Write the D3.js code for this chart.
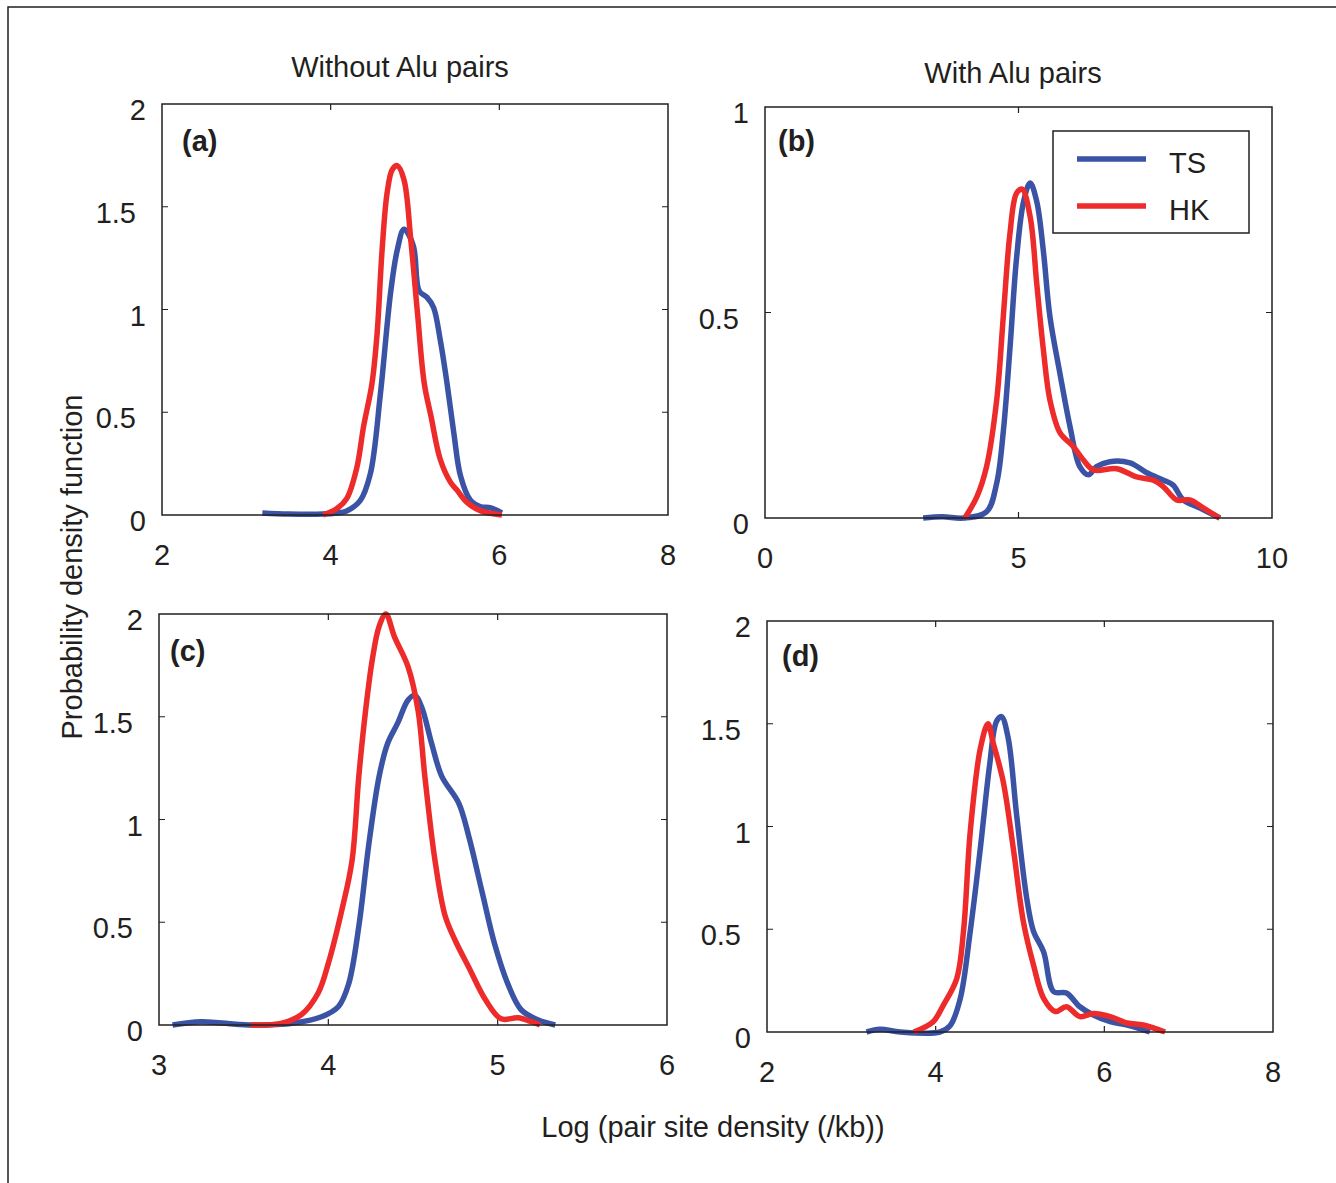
<!DOCTYPE html>
<html lang="en">
<head>
	<meta charset="UTF-8">
	<title>Pair site density PDFs</title>
	<script src="https://d3js.org/d3.v7.min.js"></script>
	<style>
		html, body {
			margin: 0;
			padding: 0;
			background: #fff;
		}
		text {
			font-family: 'Liberation Sans', Arial, Helvetica, sans-serif;
			font-size: 29px;
			fill: #231f20;
		}
		.frame, .box {
			fill: none;
			stroke: #231f20;
			stroke-width: 1.5px;
		}
		.tick-line {
			stroke: #231f20;
			stroke-width: 1.2px;
		}
		.curve {
			fill: none;
			stroke-width: 5.5px;
			stroke-linejoin: round;
		}
	</style>
</head>
<body>
<div id="chart"></div>
<script>

// ---- data: [log pair site density, pdf] ----
var seriesNames = ['TS', 'HK'];
var seriesColors = ['#3a53a4', '#ed2b2a'];

var aTS = [[3.19,0.01],[3.5,0.005],[3.91,0.005],[4.07,0.01],[4.19,0.02],[4.35,0.07],[4.47,0.2],[4.59,0.59],[4.71,1.08],[4.79,1.29],[4.87,1.39],[4.98,1.31],[5.05,1.09],[5.14,1.06],[5.22,1.01],[5.30,0.85],[5.38,0.64],[5.46,0.40],[5.54,0.19],[5.66,0.07],[5.78,0.04],[5.90,0.035],[6.03,0.01]];
var aHK = [[3.91,0],[4.07,0.03],[4.19,0.08],[4.31,0.23],[4.39,0.43],[4.49,0.64],[4.55,0.88],[4.61,1.29],[4.67,1.57],[4.73,1.68],[4.79,1.70],[4.87,1.63],[4.95,1.34],[5.03,0.98],[5.11,0.64],[5.19,0.48],[5.30,0.27],[5.42,0.16],[5.50,0.12],[5.62,0.06],[5.78,0.02],[6.03,0]];

var bTS = [[3.12,0],[3.5,0.003],[3.92,0],[4.37,0.015],[4.57,0.085],[4.70,0.21],[4.83,0.41],[4.96,0.63],[5.10,0.77],[5.23,0.815],[5.36,0.77],[5.49,0.65],[5.62,0.49],[5.82,0.35],[6.02,0.22],[6.21,0.125],[6.38,0.105],[6.54,0.125],[6.80,0.137],[7.20,0.134],[7.53,0.11],[7.86,0.092],[8.05,0.08],[8.25,0.044],[8.58,0.024],[8.97,0]];
var bHK = [[3.94,0],[4.18,0.052],[4.37,0.125],[4.57,0.287],[4.70,0.49],[4.83,0.69],[4.96,0.79],[5.07,0.80],[5.23,0.733],[5.36,0.57],[5.49,0.41],[5.62,0.287],[5.82,0.207],[6.08,0.174],[6.28,0.141],[6.48,0.117],[6.94,0.12],[7.33,0.1],[7.66,0.092],[7.86,0.076],[8.12,0.044],[8.38,0.044],[8.65,0.024],[8.97,0]];

var cTS = [[3.08,0],[3.25,0.016],[3.53,0],[3.80,0.01],[3.96,0.04],[4.06,0.09],[4.12,0.20],[4.18,0.48],[4.24,0.885],[4.30,1.21],[4.35,1.37],[4.41,1.47],[4.47,1.58],[4.51,1.605],[4.55,1.55],[4.61,1.37],[4.67,1.21],[4.77,1.08],[4.83,0.916],[4.91,0.64],[4.98,0.40],[5.06,0.20],[5.14,0.073],[5.24,0.024],[5.34,0]];
var cHK = [[3.54,0],[3.72,0.008],[3.84,0.05],[3.94,0.156],[4.00,0.30],[4.08,0.56],[4.14,0.80],[4.18,1.21],[4.22,1.53],[4.26,1.78],[4.30,1.94],[4.34,2.0],[4.39,1.89],[4.47,1.745],[4.53,1.53],[4.57,1.21],[4.63,0.80],[4.69,0.53],[4.75,0.41],[4.83,0.28],[4.93,0.12],[5.02,0.03],[5.12,0.035],[5.20,0.016],[5.25,0]];

var dTS = [[3.18,0],[3.34,0.013],[3.58,0],[4.05,0],[4.17,0.03],[4.29,0.16],[4.41,0.49],[4.53,0.895],[4.64,1.30],[4.72,1.51],[4.78,1.535],[4.86,1.43],[4.96,1.056],[5.08,0.65],[5.16,0.49],[5.28,0.39],[5.40,0.196],[5.55,0.19],[5.71,0.123],[5.87,0.083],[6.07,0.05],[6.27,0.034],[6.54,0]];
var dHK = [[3.74,0],[3.97,0.05],[4.09,0.13],[4.25,0.26],[4.33,0.49],[4.41,0.975],[4.53,1.38],[4.62,1.50],[4.68,1.41],[4.80,1.22],[4.92,0.895],[5.04,0.537],[5.16,0.326],[5.28,0.164],[5.42,0.10],[5.55,0.123],[5.71,0.075],[5.87,0.09],[6.07,0.075],[6.27,0.044],[6.46,0.034],[6.72,0]];

// axis tick values per panel (first/last give the domain)
var aXTicks = [2,4,6,8],  aYTicks = [0,0.5,1,1.5,2];
var bXTicks = [0,5,10],   bYTicks = [0,0.5,1];
var cXTicks = [3,4,5,6],  cYTicks = [0,0.5,1,1.5,2];
var dXTicks = [2,4,6,8],  dYTicks = [0,0.5,1,1.5,2];

var columnTitles = ['Without Alu pairs', 'With Alu pairs'];

// ---- layout ----
var width = 1336, height = 1183;

var panels = [
	{ id:'(a)', left:162, right:668, top:104, bottom:515, xt:aXTicks, yt:aYTicks, lines:[aTS,aHK], lx:20, ly:47 },
	{ id:'(b)', left:765, right:1272, top:107, bottom:518, xt:bXTicks, yt:bYTicks, lines:[bTS,bHK], lx:13, ly:44, legend:true },
	{ id:'(c)', left:159, right:667, top:614, bottom:1025, xt:cXTicks, yt:cYTicks, lines:[cTS,cHK], lx:11, ly:47 },
	{ id:'(d)', left:767, right:1273, top:621, bottom:1032, xt:dXTicks, yt:dYTicks, lines:[dTS,dHK], lx:15, ly:45 }
];

var svg = d3.select('#chart')
	.append('svg')
	.attr('width', width)
	.attr('height', height);

svg.append('rect')
	.attr('width', width)
	.attr('height', height)
	.attr('fill', '#fff');

// outer frame, cut off on the right and bottom like the original
svg.append('rect')
	.attr('class', 'frame')
	.attr('x', 8)
	.attr('y', 7)
	.attr('width', width + 20)
	.attr('height', height + 20);

var tickLen = 6;

panels.forEach(function(p) {
	var x = d3.scaleLinear()
		.domain([p.xt[0], p.xt[p.xt.length - 1]])
		.range([p.left, p.right]);
	var y = d3.scaleLinear()
		.domain([p.yt[0], p.yt[p.yt.length - 1]])
		.range([p.bottom, p.top]);

	var g = svg.append('g');

	// inward ticks on all four sides
	g.selectAll('.xtick')
		.data(p.xt.slice(1, -1))
		.enter().append('path')
		.attr('class', 'tick-line')
		.attr('d', function(d) {
			return 'M' + x(d) + ',' + p.bottom + 'v' + (-tickLen) +
				'M' + x(d) + ',' + p.top + 'v' + tickLen;
		});

	g.selectAll('.ytick')
		.data(p.yt.slice(1, -1))
		.enter().append('path')
		.attr('class', 'tick-line')
		.attr('d', function(d) {
			return 'M' + p.left + ',' + y(d) + 'h' + tickLen +
				'M' + p.right + ',' + y(d) + 'h' + (-tickLen);
		});

	// x tick labels
	g.selectAll('.xlab')
		.data(p.xt)
		.enter().append('text')
		.attr('x', function(d) { return x(d); })
		.attr('y', p.bottom + 50)
		.attr('text-anchor', 'middle')
		.text(function(d) { return d; });

	// y tick labels (decimals sit a little further out, as in the source)
	g.selectAll('.ylab')
		.data(p.yt)
		.enter().append('text')
		.attr('x', function(d) { return p.left - (d % 1 === 0 ? 16 : 26); })
		.attr('y', function(d) { return y(d) + 16; })
		.attr('text-anchor', 'end')
		.text(function(d) { return d; });

	// curves
	var line = d3.line()
		.x(function(d) { return x(d[0]); })
		.y(function(d) { return y(d[1]); })
		.curve(d3.curveCatmullRom.alpha(0.5));

	g.selectAll('.curve')
		.data(p.lines)
		.enter().append('path')
		.attr('class', 'curve')
		.attr('stroke', function(d, i) { return seriesColors[i]; })
		.attr('d', line);

	// axes box
	g.append('rect')
		.attr('class', 'box')
		.attr('x', p.left)
		.attr('y', p.top)
		.attr('width', p.right - p.left)
		.attr('height', p.bottom - p.top);

	g.append('text')
		.attr('x', p.left + p.lx)
		.attr('y', p.top + p.ly)
		.attr('font-weight', 'bold')
		.text(p.id);

	if (p.legend) {
		var lg = g.append('g').attr('transform', 'translate(1053,131)');
		lg.append('rect')
			.attr('class', 'box')
			.attr('width', 196)
			.attr('height', 102)
			.attr('fill', '#fff');
		seriesNames.forEach(function(name, i) {
			lg.append('line')
				.attr('x1', 24).attr('x2', 93)
				.attr('y1', 28 + i * 47).attr('y2', 28 + i * 47)
				.attr('stroke', seriesColors[i])
				.attr('stroke-width', 5.5);
			lg.append('text')
				.attr('x', 116)
				.attr('y', 42 + i * 47)
				.text(name);
		});
	}
});

// column titles and shared axis labels
svg.append('text')
	.attr('x', 400).attr('y', 77)
	.attr('text-anchor', 'middle')
	.text(columnTitles[0]);

svg.append('text')
	.attr('x', 1013).attr('y', 83)
	.attr('text-anchor', 'middle')
	.text(columnTitles[1]);

svg.append('text')
	.attr('x', 713).attr('y', 1137)
	.attr('text-anchor', 'middle')
	.text('Log (pair site density (/kb))');

svg.append('text')
	.attr('transform', 'translate(82,567) rotate(-90)')
	.attr('text-anchor', 'middle')
	.text('Probability density function');

</script>
</body>
</html>
